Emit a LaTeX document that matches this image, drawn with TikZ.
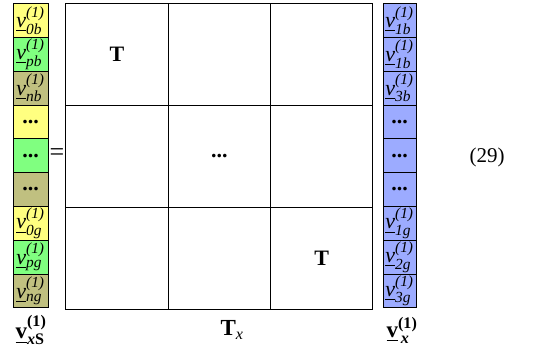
\documentclass[tikz,border=0pt]{standalone}
\usepackage{amsmath}
\usepackage{fontspec}
\setmainfont{Liberation Serif}
\usepackage{tikz}
\usetikzlibrary{positioning}
\definecolor{vyellow}{HTML}{FFFF80}
\definecolor{vgreen}{HTML}{80FF80}
\definecolor{volive}{HTML}{C0C080}
\definecolor{vblue}{HTML}{9CABFF}
\newcommand{\vsub}[1]{$\underline{\text{\itshape v}}^{\text{\itshape (1)}}_{\text{\itshape #1}}$}
\newcommand{\cdotsb}{\textbf{...}}

\begin{document}
\begin{tikzpicture}[x=1pt, y=-1pt,
    vcell/.style={draw, line width=0.8pt, inner sep=0pt,
                  minimum width=35pt, minimum height=33.8pt,
                  font=\fontsize{22}{24}\selectfont},
    rcell/.style={vcell, fill=vblue, minimum width=33pt},
    tcell/.style={draw, line width=0.8pt, inner sep=0pt,
                  minimum width=102.3pt, minimum height=102pt,
                  font=\fontsize{22}{24}\selectfont},
    lbl/.style={font=\fontsize{21}{24}\selectfont},
    colname/.style={font=\fontsize{23}{26}\selectfont},
  ]
  \useasboundingbox (0,0) rectangle (554,356);
  % left vector
  \node[vcell, fill=vyellow] (l1) at (30.5,20.4)  {\vsub{0b}};
  \node[vcell, fill=vgreen]  (l2) at (30.5,54.2)  {\vsub{pb}};
  \node[vcell, fill=volive]  (l3) at (30.5,88.0)  {\vsub{nb}};
  \node[vcell, fill=vyellow] (l4) at (30.5,121.8) {\cdotsb};
  \node[vcell, fill=vgreen]  (l5) at (30.5,155.6) {\cdotsb};
  \node[vcell, fill=volive]  (l6) at (30.5,189.4) {\cdotsb};
  \node[vcell, fill=vyellow] (l7) at (30.5,223.2) {\vsub{0g}};
  \node[vcell, fill=vgreen]  (l8) at (30.5,257.0) {\vsub{pg}};
  \node[vcell, fill=volive]  (l9) at (30.5,290.8) {\vsub{ng}};
  \node[font=\fontsize{26}{28}\selectfont] (eq) at (57,155) {=};
  % block matrix
  \node[tcell] (t11) at (117.0,54.3)  {\textbf{T}};
  \node[tcell] (t12) at (219.3,54.3)  {};
  \node[tcell] (t13) at (321.6,54.3)  {};
  \node[tcell] (t21) at (117.0,156.3) {};
  \node[tcell] (t22) at (219.3,156.3) {\cdotsb};
  \node[tcell] (t23) at (321.6,156.3) {};
  \node[tcell] (t31) at (117.0,258.3) {};
  \node[tcell] (t32) at (219.3,258.3) {};
  \node[tcell] (t33) at (321.6,258.3) {\textbf{T}};
  % right vector
  \node[rcell] (r1) at (399.5,20.4)  {\vsub{1b}};
  \node[rcell] (r2) at (399.5,54.2)  {\vsub{1b}};
  \node[rcell] (r3) at (399.5,88.0)  {\vsub{3b}};
  \node[rcell] (r4) at (399.5,121.8) {\cdotsb};
  \node[rcell] (r5) at (399.5,155.6) {\cdotsb};
  \node[rcell] (r6) at (399.5,189.4) {\cdotsb};
  \node[rcell] (r7) at (399.5,223.2) {\vsub{1g}};
  \node[rcell] (r8) at (399.5,257.0) {\vsub{2g}};
  \node[rcell] (r9) at (399.5,290.8) {\vsub{3g}};
  \node[lbl] (eqno) at (487,157) {(29)};
  % names under the columns
  \node[colname] (nl) at (31,330)  {$\underline{\textbf{v}}^{\textbf{(1)}}_{\text{\bfseries\itshape x}\textbf{S}}$};
  \node[colname] (nt) at (232,330) {$\textbf{T}_{\text{\itshape x}}$};
  \node[colname] (nr) at (402,330) {$\underline{\textbf{v}}^{\textbf{(1)}}_{\,\text{\bfseries\itshape x}}$};
\end{tikzpicture}
\end{document}
